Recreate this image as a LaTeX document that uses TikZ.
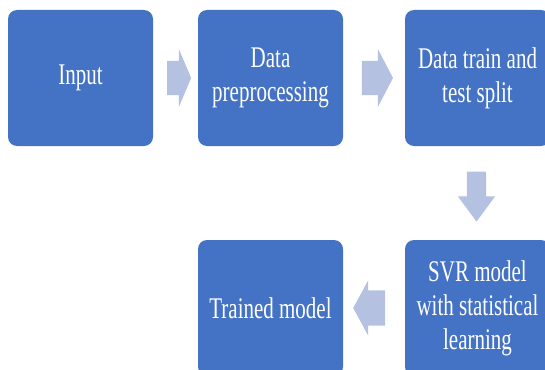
\documentclass[tikz,border=0pt]{standalone}
\usepackage{fontspec}
\setmainfont[FakeStretch=0.7]{Liberation Serif}
\usetikzlibrary{shapes.arrows,calc}
\definecolor{boxblue}{HTML}{4472C4}
\definecolor{arrowblue}{HTML}{B4C1E1}
\tikzset{
  stepbox/.style={fill=boxblue, rounded corners=9pt, minimum width=145pt, minimum height=136pt,
    inner sep=0pt, text=white, align=center, font=\fontsize{30}{34}\selectfont},
  barrow/.style={single arrow, fill=arrowblue, inner xsep=0pt, draw=none}
}
\begin{document}
\begin{tikzpicture}[x=1pt,y=1pt]
\useasboundingbox (0,0) rectangle (545,-369);
\node[stepbox] (in) at (80.5,-78) {Input};
\node[stepbox] (pre) at (270.5,-78) {Data\\preprocessing};
\node[stepbox] (split) at (477.5,-78) {Data train and\\test split};
\node[stepbox] (svr) at (477.5,-308) {SVR model\\with statistical\\learning};
\node[stepbox] (tm) at (270.5,-308) {Trained model};
\node[barrow, inner ysep=17pt, minimum height=24pt, single arrow head extend=11.5pt, single arrow tip angle=134]
  (a1) at ($(in.east)!0.5!(pre.west)$) {};
\node[barrow, inner ysep=17pt, minimum height=31pt, single arrow head extend=12pt, single arrow tip angle=125]
  (a2) at ($(pre.east)!0.5!(split.west)+(-1,0)$) {};
\node[barrow, rotate=270, inner ysep=9.5pt, minimum height=50pt, single arrow head extend=9pt, single arrow tip angle=73]
  (a3) at ($(split.south)!0.5!(svr.north)+(-1,3)$) {};
\node[barrow, rotate=180, inner ysep=17.5pt, minimum height=32pt, single arrow head extend=10pt, single arrow tip angle=123]
  (a4) at ($(svr.west)!0.5!(tm.east)$) {};
\end{tikzpicture}
\end{document}
